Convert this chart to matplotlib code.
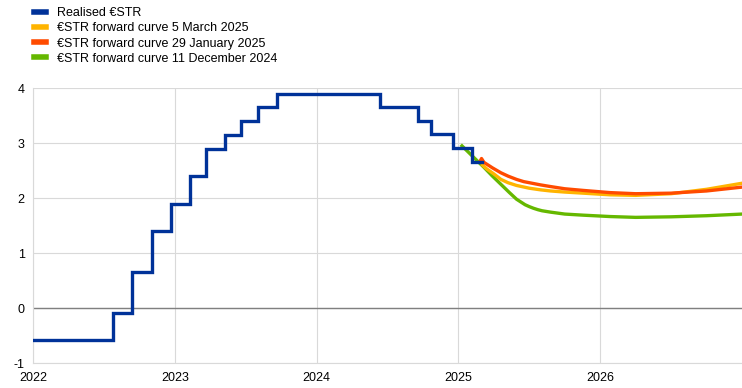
import matplotlib
matplotlib.use("Agg")
import matplotlib.pyplot as plt
import datetime as dt

plt.rcParams['font.family'] = ['Liberation Sans', 'DejaVu Sans']
plt.rcParams['axes.unicode_minus'] = False

def fy(s):
    d = dt.date.fromisoformat(s)
    start = dt.date(d.year, 1, 1)
    days = (dt.date(d.year + 1, 1, 1) - start).days
    return d.year + (d - start).days / days

# Realised €STR (step changes)
estr_dates = ["2022-01-01", "2022-07-27", "2022-09-14", "2022-11-02", "2022-12-21",
              "2023-02-08", "2023-03-22", "2023-05-10", "2023-06-21", "2023-08-02",
              "2023-09-20", "2024-06-12", "2024-09-18", "2024-10-23", "2024-12-18",
              "2025-02-05", "2025-03-04"]
estr_values = [-0.58, -0.09, 0.66, 1.40, 1.90, 2.40, 2.90, 3.15, 3.40, 3.65,
               3.90, 3.66, 3.41, 3.16, 2.91, 2.66, 2.66]

# Forward curves (fractional year, %)
fwd_mar_x = [2025.17, 2025.20, 2025.25, 2025.30, 2025.35, 2025.41, 2025.50, 2025.58, 2025.65,
             2025.75, 2025.88, 2026.07, 2026.25, 2026.50, 2026.75, 2027.00]
fwd_mar_y = [2.60, 2.53, 2.44, 2.34, 2.28, 2.23, 2.18, 2.15, 2.13,
             2.11, 2.09, 2.06, 2.05, 2.08, 2.16, 2.27]

fwd_jan_x = [2025.155, 2025.163, 2025.18, 2025.24, 2025.30, 2025.35, 2025.41, 2025.46, 2025.50,
             2025.58, 2025.65, 2025.75, 2025.88, 2026.07, 2026.25, 2026.50, 2026.75, 2027.00]
fwd_jan_y = [2.68, 2.72, 2.65, 2.55, 2.46, 2.40, 2.34, 2.30, 2.28,
             2.24, 2.21, 2.17, 2.14, 2.10, 2.08, 2.09, 2.13, 2.20]

fwd_dec_x = [2025.025, 2025.10, 2025.18, 2025.24, 2025.30, 2025.36, 2025.41, 2025.47, 2025.50,
             2025.53, 2025.56, 2025.59, 2025.65, 2025.75, 2025.88, 2026.07, 2026.25, 2026.50,
             2026.75, 2027.00]
fwd_dec_y = [2.95, 2.76, 2.56, 2.40, 2.25, 2.10, 1.98, 1.88, 1.845,
             1.815, 1.79, 1.77, 1.745, 1.71, 1.69, 1.665, 1.65, 1.66,
             1.68, 1.71]

year_ticks = [2022, 2023, 2024, 2025, 2026]
y_ticks = [-1, 0, 1, 2, 3, 4]

labels = ["Realised €STR", "€STR forward curve 5 March 2025",
          "€STR forward curve 29 January 2025", "€STR forward curve 11 December 2024"]
colors = ["#003299", "#ffb400", "#ff4b00", "#65b800"]

fig = plt.figure(figsize=(7.42, 3.88), dpi=100)
ax = fig.add_axes([0.0445, 0.064, 0.9555, 0.709])

ex = [fy(d) for d in estr_dates]
l0, = ax.step(ex, estr_values, where='post', color=colors[0], lw=2.4, zorder=4, solid_joinstyle='miter')
l3, = ax.plot(fwd_dec_x, fwd_dec_y, color=colors[3], lw=2.4, zorder=3, solid_joinstyle='round')
l1, = ax.plot(fwd_mar_x, fwd_mar_y, color=colors[1], lw=2.4, zorder=3, solid_joinstyle='round')
l2, = ax.plot(fwd_jan_x, fwd_jan_y, color=colors[2], lw=2.4, zorder=3, solid_joinstyle='round')

ax.set_xlim(2022, 2027)
ax.set_ylim(-1, 4)
ax.set_xticks(year_ticks)
ax.set_xticklabels([str(y) for y in year_ticks])
ax.set_yticks(y_ticks)
ax.set_yticklabels([str(v) for v in y_ticks])
ax.grid(True, color="#d9d9d9", lw=0.8)
ax.axhline(0, color="#808080", lw=1.0, zorder=2)
ax.tick_params(length=0, labelsize=9, colors="black", pad=6)
for s in ["top", "right"]:
    ax.spines[s].set_visible(False)
for s in ["left", "bottom"]:
    ax.spines[s].set_color("#d9d9d9")

leg = fig.legend([l0, l1, l2, l3], labels, loc="upper left", bbox_to_anchor=(0.03, 1.01),
                 frameon=False, fontsize=9, handlelength=1.0, handletextpad=0.9,
                 labelspacing=0.25)
for h in leg.get_lines():
    h.set_linewidth(4)

fig.savefig("out.png", dpi=100)
